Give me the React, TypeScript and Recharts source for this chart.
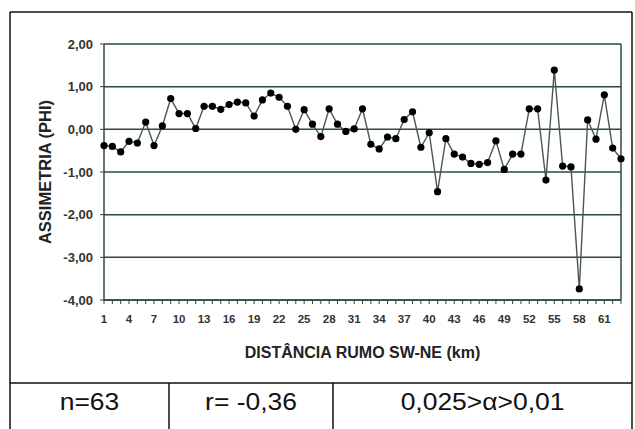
import React from 'react';
import { LineChart, Line, XAxis, YAxis, CartesianGrid } from 'recharts';

// distância ao longo do perfil (km)
const km = [
  1, 2, 3, 4, 5, 6, 7, 8, 9, 10, 11, 12, 13, 14, 15, 16, 17, 18, 19, 20, 21,
  22, 23, 24, 25, 26, 27, 28, 29, 30, 31, 32, 33, 34, 35, 36, 37, 38, 39, 40, 41, 42,
  43, 44, 45, 46, 47, 48, 49, 50, 51, 52, 53, 54, 55, 56, 57, 58, 59, 60, 61, 62, 63,
];

// assimetria (phi) em cada ponto
const assimetria = [
  -0.38, -0.4, -0.53, -0.28, -0.32, 0.17, -0.38, 0.08, 0.72, 0.37, 0.37, 0.02,
  0.54, 0.54, 0.47, 0.58, 0.64, 0.62, 0.31, 0.69, 0.85, 0.75, 0.54, 0.0,
  0.46, 0.12, -0.17, 0.48, 0.12, -0.05, 0.01, 0.48, -0.35, -0.46, -0.18, -0.22,
  0.23, 0.41, -0.42, -0.08, -1.46, -0.22, -0.58, -0.65, -0.8, -0.82, -0.78, -0.27,
  -0.94, -0.58, -0.58, 0.48, 0.48, -1.19, 1.39, -0.86, -0.88, -3.74, 0.22, -0.23,
  0.81, -0.44, -0.69,
];

const yTicks = [-4, -3, -2, -1, 0, 1, 2];

const stats = ['n=63', 'r= -0,36', '0,025>α>0,01'];

const data = km.map((k, i) => ({ km: k, phi: assimetria[i] }));

const gridColor = '#2f4848';
const sans = '"Liberation Sans", Arial, sans-serif';

const fmt = (v: number) => v.toFixed(2).replace('.', ',');

// só rotula de 3 em 3 km, mas mantém os tracinhos em todos
const KmTick = (props: any) => {
  const { x, y, payload, index } = props;
  if (index % 3 !== 0) return <g />;
  return (
    <text x={x} y={y} dy={17} textAnchor="middle" fontFamily={sans} fontSize={11.5} fontWeight="bold" fill="#333">
      {payload.value}
    </text>
  );
};

const Dot = (props: any) => {
  const { cx, cy } = props;
  return <circle cx={cx} cy={cy} r={3.6} fill="#000" />;
};

// texto da tabela levemente esticado na horizontal
const Cell = ({ x, text }: { x: number; text: string }) => (
  <text transform={`translate(${x},410) scale(1.15,1)`} textAnchor="middle">
    {text}
  </text>
);

export default function App() {
  return (
    <div style={{ position: 'absolute', left: 0, top: 0, width: 635, height: 429, background: '#fff' }}>
      <LineChart width={635} height={429} data={data} margin={{ top: 44, right: 14, bottom: 69, left: 44 }}>
        <CartesianGrid
          stroke={gridColor}
          strokeWidth={1.5}
          vertical
          verticalCoordinatesGenerator={({ offset }: any) => [offset.left + offset.width]}
        />
        <XAxis
          dataKey="km"
          type="category"
          interval={0}
          height={60}
          tick={<KmTick />}
          tickSize={4}
          tickLine={{ stroke: gridColor }}
          axisLine={{ stroke: gridColor, strokeWidth: 1.5 }}
          label={{
            value: 'DISTÂNCIA RUMO SW-NE (km)',
            position: 'insideBottom',
            offset: 2,
            style: { fontFamily: sans, fontSize: 16, fontWeight: 'bold', fill: '#222' },
          }}
        />
        <YAxis
          width={60}
          domain={[-4, 2]}
          ticks={yTicks}
          tickFormatter={fmt}
          tickSize={4}
          tickMargin={7}
          tickLine={{ stroke: gridColor }}
          axisLine={{ stroke: gridColor, strokeWidth: 1.5 }}
          tick={{ fontFamily: sans, fontSize: 13, fontWeight: 'bold', fill: '#333' }}
          label={{
            value: 'ASSIMETRIA (PHI)',
            angle: -90,
            position: 'insideLeft',
            offset: 1,
            style: { textAnchor: 'middle', fontFamily: sans, fontSize: 16.5, fontWeight: 'bold', fill: '#222' },
          }}
        />
        <Line
          type="linear"
          dataKey="phi"
          stroke="#4a5656"
          strokeWidth={1.4}
          dot={<Dot />}
          activeDot={false}
          isAnimationActive={false}
        />
      </LineChart>
      {/* moldura e tabela de estatísticas */}
      <svg width={635} height={429} style={{ position: 'absolute', left: 0, top: 0, pointerEvents: 'none' }}>
        <g stroke="#111" strokeWidth={1.5}>
          <line x1={10} y1={12} x2={632} y2={12} />
          <line x1={10} y1={12} x2={10} y2={429} />
          <line x1={632} y1={12} x2={632} y2={429} />
          <line x1={10} y1={383} x2={632} y2={383} />
          <line x1={169} y1={383} x2={169} y2={429} />
          <line x1={333} y1={383} x2={333} y2={429} />
        </g>
        <g fontFamily={sans} fontSize={23} fill="#111">
          <Cell x={89.5} text={stats[0]} />
          <Cell x={251} text={stats[1]} />
          <Cell x={482.5} text={stats[2]} />
        </g>
      </svg>
    </div>
  );
}
